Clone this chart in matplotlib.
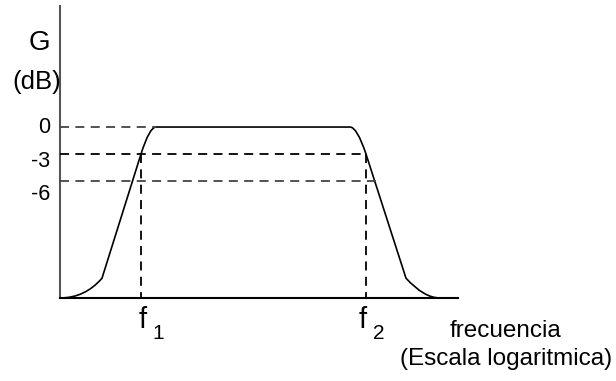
import matplotlib
matplotlib.use("Agg")
import matplotlib.pyplot as plt
from matplotlib.path import Path
from matplotlib.patches import PathPatch

plt.rcParams['font.family'] = ['Liberation Sans', 'DejaVu Sans']

# gain levels marked on the G axis (dB)
levels = [0, -3, -6]
level_labels = ['0', '-3', '-6']

# log-frequency positions of the band edges
f1 = 81
f2 = 306
f_labels = ['f', 'f']
f_subs = ['1', '2']

# response outline: knee points (x, dB) and bezier control points between them
floor_db = -19
knee_db = -16.8
pts = [(0, floor_db), (25, floor_db), (42, knee_db),
       (f1, -3), (89.5, 0), (96, 0),
       (290, 0), (297, 0), (f2, -3),
       (346, knee_db), (364, floor_db), (380, floor_db)]
codes = [Path.MOVETO, Path.CURVE3, Path.CURVE3,
         Path.LINETO, Path.CURVE3, Path.CURVE3,
         Path.LINETO, Path.CURVE3, Path.CURVE3,
         Path.LINETO, Path.CURVE3, Path.CURVE3]

fig = plt.figure(figsize=(6.16, 3.81), dpi=100)
ax = fig.add_axes([60 / 616, 83 / 381, 398 / 616, 292 / 381])
ax.set_xlim(0, 398)
ax.set_ylim(floor_db, 13.45)
for s in ax.spines.values():
    s.set_visible(False)
ax.set_xticks([])
ax.set_yticks([])

# axes
ax.plot([0, 0], [floor_db, 13.45], color='#555555', lw=1.5, clip_on=False)
ax.plot([0, 398], [floor_db, floor_db], color='black', lw=1.5, clip_on=False)

ax.add_patch(PathPatch(Path(pts, codes), fill=False, edgecolor='black', lw=1.2))

# -6 dB crossing on the falling edge
slope = (knee_db + 3) / (346 - f2)
x6 = f2 + (-6 + 3) / slope

dash = dict(ls=(0, (5, 3.5)), lw=1.3)
ax.plot([0, 96], [0, 0], color='#444444', **dash)
ax.plot([0, f2], [-3, -3], color='black', **dash)
ax.plot([0, x6 + 3], [-6, -6], color='#444444', **dash)
ax.plot([f1, f1], [-3, floor_db], color='black', **dash)
ax.plot([f2, f2], [-3, floor_db], color='black', **dash)

offsets = [0, -0.8, -1.5]
for v, lab, off in zip(levels, level_labels, offsets):
    ax.text(-10, v + off, lab, ha='right', va='center', fontsize=15.5)

ax.text(-21, 9.3, 'G', ha='center', va='center', fontsize=20)
ax.text(-23, 4.95, '(dB)', ha='center', va='center', fontsize=18.5)

for fx, lab, sub, dx in zip([f1, f2], f_labels, f_subs, [1.5, -3]):
    ax.text(fx + dx, -21.4, lab, ha='center', va='center', fontsize=21)
    ax.text(fx + dx + 16, -22.95, sub, ha='center', va='center', fontsize=15)

fig.text(506 / 616, 1 - 331 / 381, 'frecuencia', ha='center', va='center', fontsize=17.5)
fig.text(506 / 616, 1 - 359 / 381, '(Escala logaritmica)', ha='center', va='center',
         fontsize=17.5)

fig.savefig('out.png', dpi=100)
